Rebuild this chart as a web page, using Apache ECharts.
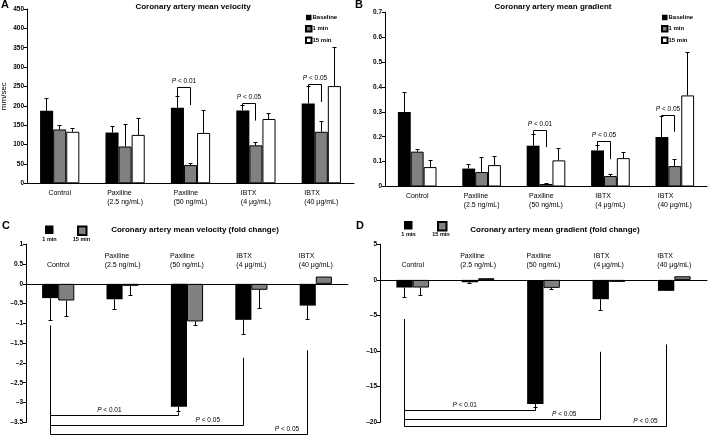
<!DOCTYPE html>
<html>
<head>
<meta charset="utf-8">
<script src="https://cdn.jsdelivr.net/npm/echarts@6/dist/echarts.min.js"></script>
<style>
html, body { margin: 0; padding: 0; background: #fff; }
#main { width: 709px; height: 435px; }
</style>
</head>
<body>
<div id="main"></div>
<script>
var categories = ['Control', 'Paxiline\n(2.5 ng/mL)', 'Paxiline\n(50 ng/mL)', 'IBTX\n(4 μg/mL)', 'IBTX\n(40 μg/mL)'];

// A - mean velocity (mm/sec), mean and SD
var velBaseline = [187, 131, 195, 188, 206];
var velBaselineSd = [32, 16, 30, 13, 45];
var vel1min = [139, 95, 47, 98, 133];
var vel1minSd = [9, 58, 3, 7, 27];
var vel15min = [133, 125, 130, 166, 251];
var vel15minSd = [9, 43, 59, 15, 99];
var velSigCat = [2, 3, 4];
var velSigLine = [248, 207, 255];
var velSigEnd = [202, 162, 210];

// B - mean gradient
var gradBaseline = [0.299, 0.072, 0.164, 0.145, 0.199];
var gradBaselineSd = [0.079, 0.016, 0.043, 0.02, 0.081];
var grad1min = [0.14, 0.058, 0.01, 0.042, 0.082];
var grad1minSd = [0.009, 0.06, 0.002, 0.005, 0.027];
var grad15min = [0.078, 0.086, 0.105, 0.114, 0.366];
var grad15minSd = [0.026, 0.034, 0.048, 0.023, 0.174];
var gradSigCat = [2, 3, 4];
var gradSigLine = [0.225, 0.181, 0.285];
var gradSigEnd = [0.158, 0.11, 0.22];

var sigText = ['P < 0.01', 'P < 0.05', 'P < 0.05'];

// C - velocity fold change
var velFold1 = [-0.36, -0.39, -3.11, -0.91, -0.55];
var velFold1Sd = [0.575, 0.27, 0.12, 0.38, 0.36];
var velFold15 = [-0.42, -0.05, -0.95, -0.15, 0.185];
var velFold15Sd = [0.41, 0.24, 0.11, 0.48, 0];
var velFoldSigCat = [2, 3, 4];
var velFoldSigLine = [-3.34, -3.58, -3.82];
var velFoldSigTop = [-3.25, -1.87, -1.68];
var velFoldCtrlTop = -1.06;

// D - gradient fold change
var gradFold1 = [-1.07, -0.33, -17.43, -2.71, -1.54];
var gradFold1Sd = [1.45, 0.23, 0.47, 1.54, 0];
var gradFold15 = [-1.07, 0.23, -1.12, -0.28, 0.51];
var gradFold15Sd = [1.08, 0, 0.28, 0, 0];
var gradFoldSigCat = [2, 3, 4];
var gradFoldSigLine = [-18.36, -19.67, -20.65];
var gradFoldSigTop = [-17.9, -10.1, -9.07];
var gradFoldCtrlTop = -5.5;

var FONT = '"Liberation Sans", Arial, sans-serif';
// where the P label sits along each fold-change bracket
var foldLabelPos = [0.46, 0.815, 0.92];

var styleBlack = { color: '#000' };
var styleGray = { color: '#808080', borderColor: '#000', borderWidth: 1 };
var styleWhite = { color: '#fff', borderColor: '#000', borderWidth: 1 };

function catLabel(v) {
    return v.split('\n').map(function (s) { return '{l|' + s + '}'; }).join('\n');
}

function errData(vals, sds, k) {
    return vals.map(function (v, i) { return [i, v, sds[i], k]; });
}

function crisp(v) { return Math.round(v - 0.5) + 0.5; }

// error bars drawn over grouped bars
function errorBarItem(nBars, ratio) {
    return function (params, api) {
        var cat = api.value(0), val = api.value(1), sd = api.value(2), k = api.value(3);
        if (!sd) return null;
        var bw = api.size([1, 0])[0] * ratio;
        var base = api.coord([cat, val]);
        var tip = api.coord([cat, val < 0 ? val - sd : val + sd]);
        var x = crisp(base[0] - nBars * bw / 2 + (k + 0.5) * bw);
        var ls = { stroke: '#000', lineWidth: 1 };
        return {
            type: 'group',
            children: [
                { type: 'line', shape: { x1: x, y1: base[1], x2: x, y2: tip[1] }, style: ls },
                { type: 'line', shape: { x1: x - 2, y1: crisp(tip[1]), x2: x + 2, y2: crisp(tip[1]) }, style: ls }
            ]
        };
    };
}

function pLabel(txt, x, y) {
    return {
        type: 'text',
        style: {
            text: '{i|P}' + txt.slice(1),
            x: x, y: y, align: 'center', verticalAlign: 'bottom',
            fontSize: 6.5, fontFamily: FONT, fill: '#000',
            rich: { i: { fontStyle: 'italic', fontSize: 6.5, fontFamily: FONT, fill: '#000' } }
        }
    };
}

// baseline vs 1 min bracket
function bracketItem(ratio) {
    return function (params, api) {
        var cat = api.value(0);
        var bw = api.size([1, 0])[0] * ratio;
        var c = api.coord([cat, api.value(1)]);
        var xl = crisp(c[0] - 1.5 * bw + 0.5 * bw), xr = crisp(xl + bw);
        var y = crisp(c[1]);
        var yl = api.coord([cat, api.value(2)])[1], yr = api.coord([cat, api.value(3)])[1];
        return {
            type: 'group',
            children: [
                { type: 'polyline', shape: { points: [[xl, yl], [xl, y], [xr, y], [xr, yr]] }, style: { stroke: '#000', fill: null, lineWidth: 1 } },
                pLabel(sigText[params.dataIndex], (xl + xr) / 2, y - 2.5)
            ]
        };
    };
}

// control vs treatment bracket below fold-change bars
function foldBracketItem(ratio, ctrlTop) {
    return function (params, api) {
        var t = api.value(0);
        var bw = api.size([1, 0])[0] * ratio;
        var y = crisp(api.coord([t, api.value(1)])[1]);
        var xt = crisp(api.coord([t, 0])[0] - bw / 2);
        var x0 = crisp(api.coord([0, 0])[0] - bw / 2);
        var yTop = api.coord([t, api.value(2)])[1];
        var yCtrl = api.coord([0, ctrlTop])[1];
        var f = foldLabelPos[params.dataIndex];
        return {
            type: 'group',
            children: [
                { type: 'polyline', shape: { points: [[x0, yCtrl], [x0, y], [xt, y], [xt, yTop]] }, style: { stroke: '#000', fill: null, lineWidth: 1 } },
                pLabel(sigText[params.dataIndex], x0 + f * (xt - x0), y - 2)
            ]
        };
    };
}

function sigData(cats, lines, ends, baseVals, baseSds) {
    return cats.map(function (c, i) { return [c, lines[i], baseVals[c] + baseSds[c], ends[i]]; });
}

function foldSigData(cats, lines, tops) {
    return cats.map(function (c, i) { return [c, lines[i], tops[i]]; });
}

function xAxisOf(gi, top) {
    return {
        type: 'category', gridIndex: gi, data: categories,
        position: top ? 'top' : 'bottom',
        axisLine: { onZero: true, lineStyle: { color: '#000', width: 1 } },
        axisTick: { show: false },
        axisLabel: {
            // fold-change labels sit just above the zero line, inside the grid
            interval: 0, margin: top ? -25.5 : 5, color: '#000',
            formatter: catLabel,
            rich: { l: { align: 'left', fontSize: 7, lineHeight: 9, fontFamily: FONT, color: '#000' } }
        }
    };
}

function yAxisOf(gi, min, max, interval, extra) {
    var ax = {
        type: 'value', gridIndex: gi, min: min, max: max, interval: interval,
        axisLine: { show: true, lineStyle: { color: '#000', width: 1 } },
        axisTick: { show: true, length: 3, lineStyle: { color: '#000' } },
        splitLine: { show: false },
        axisLabel: {
            fontSize: 6.5, fontWeight: 'bold', fontFamily: FONT, color: '#000', margin: 3,
            formatter: function (v) { return String(v).replace('-', '–'); }
        }
    };
    return Object.assign(ax, extra || {});
}

function titleOf(text, left, top, size, center, weight) {
    var t = {
        text: text, left: left, top: top, padding: 0,
        textStyle: { fontSize: size, fontWeight: weight || 'bold', fontFamily: FONT, color: '#000' }
    };
    if (center) t.textAlign = 'center';
    return t;
}

function foldLegend(name, left, top) {
    return {
        left: left, top: top, padding: 0, icon: 'rect',
        itemWidth: 8.5, itemHeight: 8.5, selectedMode: false,
        data: [name],
        formatter: function () { return ''; },
        textStyle: { fontSize: 1 }
    };
}

var legendText = { fontSize: 6, fontWeight: 'bold', fontFamily: FONT, color: '#000', lineHeight: 7, padding: [0, 4, 0, -4] };

var chart = echarts.init(document.getElementById('main'), null, { renderer: 'canvas' });

var option = {
    animation: false,
    backgroundColor: '#fff',
    textStyle: { fontFamily: FONT },
    title: [
        titleOf('A', 1, -1, 11),
        titleOf('Coronary artery mean velocity', 193, 3, 8, true),
        titleOf('B', 355, -1, 11),
        titleOf('Coronary artery mean gradient', 553, 3, 8, true),
        titleOf('C', 2, 220, 11),
        titleOf('Coronary artery mean velocity (fold change)', 195, 226, 8, true),
        titleOf('D', 356, 220, 11),
        titleOf('Coronary artery mean gradient (fold change)', 555, 226, 8, true),
        // captions under the fold-change legend swatches
        titleOf('1 min', 49.5, 236, 5.5, true),
        titleOf('15 min', 81.5, 236, 5.5, true),
        titleOf('1 min', 408.5, 231.5, 5.5, true),
        titleOf('15 min', 441, 231.5, 5.5, true)
    ],
    legend: [
        { left: 305, top: 14, orient: 'vertical', padding: 0, icon: 'rect', itemWidth: 5.5, itemHeight: 5.5, itemGap: 4,
          selectedMode: false, data: ['Baseline', '1 min', '15 min'], textStyle: legendText },
        { left: 661, top: 14, orient: 'vertical', padding: 0, icon: 'rect', itemWidth: 5.5, itemHeight: 5.5, itemGap: 4,
          selectedMode: false, data: ['Baseline', '1 min', '15 min'], textStyle: legendText },
        foldLegend('fold|1 min', 45, 225.5),
        foldLegend('fold|15 min', 77, 225.5),
        foldLegend('fold|1 min', 404, 221),
        foldLegend('fold|15 min', 437, 221)
    ],
    grid: [
        { left: 27, right: 355, top: 9, bottom: 251.7, outerBoundsMode: 'none' },
        { left: 385, right: 2, top: 12.3, bottom: 248.5, outerBoundsMode: 'none' },
        { left: 26, right: 361, top: 244.3, bottom: 12.7, outerBoundsMode: 'none' },
        { left: 380, right: 2, top: 244.3, bottom: 12.7, outerBoundsMode: 'none' }
    ],
    xAxis: [xAxisOf(0, false), xAxisOf(1, false), xAxisOf(2, true), xAxisOf(3, true)],
    yAxis: [
        yAxisOf(0, 0, 450, 50, {
            name: 'mm/sec', nameLocation: 'middle', nameRotate: 90, nameGap: 19,
            nameTextStyle: { fontSize: 8, fontFamily: FONT, color: '#000' }
        }),
        yAxisOf(1, 0, 0.7, 0.1),
        yAxisOf(2, -3.5, 1, 0.5),
        yAxisOf(3, -20, 5, 5)
    ],
    series: [
        { name: 'Baseline', type: 'bar', xAxisIndex: 0, yAxisIndex: 0, data: velBaseline, barWidth: '20%', barGap: '0%', itemStyle: styleBlack },
        { name: '1 min', type: 'bar', xAxisIndex: 0, yAxisIndex: 0, data: vel1min, barWidth: '20%', barGap: '0%', itemStyle: styleGray },
        { name: '15 min', type: 'bar', xAxisIndex: 0, yAxisIndex: 0, data: vel15min, barWidth: '20%', barGap: '0%', itemStyle: styleWhite },
        { type: 'custom', xAxisIndex: 0, yAxisIndex: 0, z: 3, renderItem: errorBarItem(3, 0.2),
          data: errData(velBaseline, velBaselineSd, 0).concat(errData(vel1min, vel1minSd, 1), errData(vel15min, vel15minSd, 2)) },
        { type: 'custom', xAxisIndex: 0, yAxisIndex: 0, z: 3, renderItem: bracketItem(0.2),
          data: sigData(velSigCat, velSigLine, velSigEnd, velBaseline, velBaselineSd) },

        { name: 'Baseline', type: 'bar', xAxisIndex: 1, yAxisIndex: 1, data: gradBaseline, barWidth: '20%', barGap: '0%', itemStyle: styleBlack },
        { name: '1 min', type: 'bar', xAxisIndex: 1, yAxisIndex: 1, data: grad1min, barWidth: '20%', barGap: '0%', itemStyle: styleGray },
        { name: '15 min', type: 'bar', xAxisIndex: 1, yAxisIndex: 1, data: grad15min, barWidth: '20%', barGap: '0%', itemStyle: styleWhite },
        { type: 'custom', xAxisIndex: 1, yAxisIndex: 1, z: 3, renderItem: errorBarItem(3, 0.2),
          data: errData(gradBaseline, gradBaselineSd, 0).concat(errData(grad1min, grad1minSd, 1), errData(grad15min, grad15minSd, 2)) },
        { type: 'custom', xAxisIndex: 1, yAxisIndex: 1, z: 3, renderItem: bracketItem(0.2),
          data: sigData(gradSigCat, gradSigLine, gradSigEnd, gradBaseline, gradBaselineSd) },

        { name: 'fold|1 min', type: 'bar', xAxisIndex: 2, yAxisIndex: 2, data: velFold1, barWidth: '25%', barGap: '0%', itemStyle: styleBlack },
        { name: 'fold|15 min', type: 'bar', xAxisIndex: 2, yAxisIndex: 2, data: velFold15, barWidth: '25%', barGap: '0%', itemStyle: styleGray },
        { type: 'custom', xAxisIndex: 2, yAxisIndex: 2, z: 3, renderItem: errorBarItem(2, 0.25),
          data: errData(velFold1, velFold1Sd, 0).concat(errData(velFold15, velFold15Sd, 1)) },
        { type: 'custom', xAxisIndex: 2, yAxisIndex: 2, z: 3, renderItem: foldBracketItem(0.25, velFoldCtrlTop),
          data: foldSigData(velFoldSigCat, velFoldSigLine, velFoldSigTop) },

        { name: 'fold|1 min', type: 'bar', xAxisIndex: 3, yAxisIndex: 3, data: gradFold1, barWidth: '25%', barGap: '0%', itemStyle: styleBlack },
        { name: 'fold|15 min', type: 'bar', xAxisIndex: 3, yAxisIndex: 3, data: gradFold15, barWidth: '25%', barGap: '0%', itemStyle: styleGray },
        { type: 'custom', xAxisIndex: 3, yAxisIndex: 3, z: 3, renderItem: errorBarItem(2, 0.25),
          data: errData(gradFold1, gradFold1Sd, 0).concat(errData(gradFold15, gradFold15Sd, 1)) },
        { type: 'custom', xAxisIndex: 3, yAxisIndex: 3, z: 3, renderItem: foldBracketItem(0.25, gradFoldCtrlTop),
          data: foldSigData(gradFoldSigCat, gradFoldSigLine, gradFoldSigTop) }
    ]
};

chart.setOption(option);
</script>
</body>
</html>
